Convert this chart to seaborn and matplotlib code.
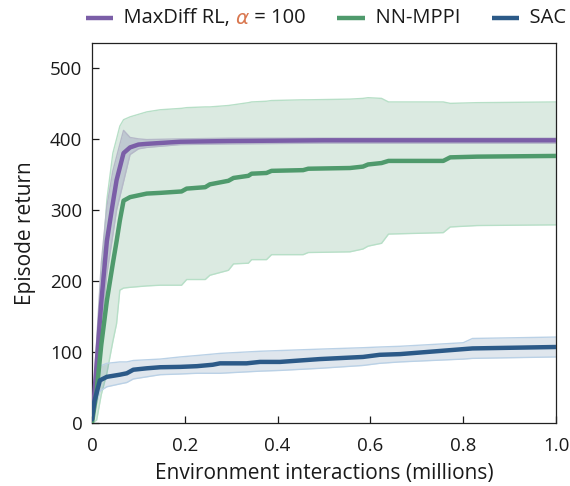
import numpy as np
import pandas as pd
import matplotlib
matplotlib.use("Agg")
import matplotlib.pyplot as plt
import seaborn as sns
from matplotlib.offsetbox import HPacker, TextArea, DrawingArea, AnchoredOffsetbox
from matplotlib.lines import Line2D

# ---------------- data ----------------
maxdiff_x = [0, 0.005, 0.02, 0.032, 0.045, 0.053, 0.068, 0.082, 0.1, 0.118, 0.19, 0.3, 0.5, 0.7, 1.0]
maxdiff_mean = [5, 40, 170, 256, 310, 342, 380, 388, 392, 393, 396, 397, 398, 398, 398]
maxdiff_upper = [10, 60, 225, 305, 355, 375, 412, 402, 400, 399, 400, 401, 401, 401, 401]
maxdiff_lower = [0, 25, 130, 210, 265, 300, 340, 378, 386, 388, 392, 393, 394, 394, 394]

mppi_x = [0, 0.01, 0.02, 0.032, 0.045, 0.053, 0.06, 0.068, 0.082, 0.118, 0.147, 0.193, 0.204,
          0.244, 0.254, 0.294, 0.305, 0.337, 0.344, 0.376, 0.387, 0.455, 0.466, 0.556, 0.584,
          0.595, 0.624, 0.639, 0.757, 0.772, 0.83, 1.0]
mppi_mean = [0, 45, 110, 172, 225, 256, 285, 313, 318, 323, 324, 326, 330, 332, 336, 341, 345,
             348, 351, 352, 355, 356, 358, 359, 361, 364, 366, 369, 369, 374, 375, 376]
mppi_upper = [0, 80, 200, 314, 380, 400, 418, 427, 431, 438, 441, 443, 444, 445, 445, 447, 448,
              451, 452, 453, 454, 455, 455, 456, 457, 458, 457, 452, 452, 450, 451, 452]
mppi_lower = [0, 4, 40, 70, 115, 140, 187, 190, 191, 193, 194, 194, 202, 202, 208, 215, 224,
              225, 230, 230, 237, 237, 240, 241, 245, 249, 253, 266, 268, 276, 278, 279]

sac_x = [0, 0.005, 0.017, 0.032, 0.06, 0.075, 0.089, 0.118, 0.147, 0.19, 0.226, 0.26, 0.276,
         0.333, 0.362, 0.405, 0.491, 0.584, 0.62, 0.664, 0.8, 0.82, 1.0]
sac_mean = [5, 30, 60, 65, 68, 70, 75, 77, 78.5, 79, 80, 82, 84, 84, 86, 86, 90, 93, 96, 97, 104, 105, 107]
sac_upper = [10, 50, 80, 84, 86, 86, 88, 89, 90, 93, 95, 97, 98, 100, 101, 102, 104, 106, 107, 108, 113, 119, 121]
sac_lower = [0, 15, 45, 51, 55, 57, 62, 65, 68, 69, 70, 70, 70, 72, 73, 74, 77, 81, 84, 86, 90, 91, 93]

x_ticks = [0, 0.2, 0.4, 0.6, 0.8, 1.0]
x_tick_labels = ["0", "0.2", "0.4", "0.6", "0.8", "1.0"]
y_ticks = [0, 100, 200, 300, 400, 500]

# ---------------- style ----------------
sns.set_theme(style="ticks")
plt.rcParams["font.family"] = ["Open Sans", "DejaVu Sans"]
plt.rcParams["axes.linewidth"] = 0.9
plt.rcParams["axes.edgecolor"] = "#222222"

purple = "#7b5ea7"
green = "#4f9a6c"
blue = "#2c5a88"
coral = "#d9774f"
txt = "#1a1a1a"

fig = plt.figure(figsize=(5.70, 4.86), dpi=100)
ax = fig.add_axes([92 / 570, 1 - 423 / 486, (556 - 92) / 570, (423 - 43) / 486])

# bands
ax.fill_between(mppi_x, mppi_lower, mppi_upper, color=green, alpha=0.2, lw=0, zorder=1)
ax.plot(mppi_x, mppi_upper, color="#b7dfc7", lw=1.0, zorder=1.1)
ax.plot(mppi_x, mppi_lower, color="#b7dfc7", lw=1.0, zorder=1.1)

ax.fill_between(maxdiff_x, maxdiff_lower, maxdiff_upper, color="#8c8cb4", alpha=0.35, lw=0, zorder=1.2)
ax.plot(maxdiff_x, maxdiff_upper, color="#b5b8c8", lw=1.0, zorder=1.3)
ax.plot(maxdiff_x, maxdiff_lower, color="#b5b8c8", lw=1.0, zorder=1.3)

ax.fill_between(sac_x, sac_lower, sac_upper, color=blue, alpha=0.15, lw=0, zorder=1.4)
ax.plot(sac_x, sac_upper, color="#bad1e6", lw=1.0, zorder=1.5)
ax.plot(sac_x, sac_lower, color="#bad1e6", lw=1.0, zorder=1.5)

# mean lines via seaborn
df_md = pd.DataFrame({"x": maxdiff_x, "y": maxdiff_mean})
df_mp = pd.DataFrame({"x": mppi_x, "y": mppi_mean})
df_sac = pd.DataFrame({"x": sac_x, "y": sac_mean})
sns.lineplot(data=df_md, x="x", y="y", ax=ax, color=purple, lw=3.2, zorder=3, estimator=None)
sns.lineplot(data=df_mp, x="x", y="y", ax=ax, color=green, lw=3.2, zorder=3.1, estimator=None)
sns.lineplot(data=df_sac, x="x", y="y", ax=ax, color=blue, lw=3.2, zorder=3.2, estimator=None)

ax.set_xlim(0, 1.0)
ax.set_ylim(0, 535)
ax.set_xticks(x_ticks)
ax.set_xticklabels(x_tick_labels)
ax.set_yticks(y_ticks)
ax.tick_params(direction="in", length=5, width=0.9, labelsize=13.5, colors=txt)
ax.tick_params(axis="x", pad=10)
ax.tick_params(axis="y", pad=7)
for s in ax.spines.values():
    s.set_visible(True)
ax.set_xlabel("Environment interactions (millions)", fontsize=15, labelpad=6, color=txt)
ax.set_ylabel("Episode return", fontsize=15, labelpad=10, color=txt)

# custom legend with coloured alpha
def handle(color):
    da = DrawingArea(20, 10, 0, 0)
    da.add_artist(Line2D([0, 20], [5, 5], color=color, lw=3.2, solid_capstyle="butt"))
    return da

fs = 14.5
tp = dict(fontsize=fs, color=txt)
items = [
    handle(purple), TextArea("  MaxDiff RL, ", textprops=tp),
    TextArea("α", textprops=dict(fontsize=fs, color=coral, family="DejaVu Sans", style="italic")),
    TextArea(" = 100", textprops=tp),
    TextArea("      ", textprops=tp),
    handle(green), TextArea("  NN-MPPI", textprops=tp),
    TextArea("      ", textprops=tp),
    handle(blue), TextArea("  SAC", textprops=tp),
]
pack = HPacker(children=items, align="center", pad=0, sep=0)
anch = AnchoredOffsetbox(loc="center", child=pack, frameon=False,
                         bbox_to_anchor=(326 / 570, 1 - 18 / 486), bbox_transform=fig.transFigure, pad=0)
fig.add_artist(anch)

fig.savefig("out.png", dpi=100)
